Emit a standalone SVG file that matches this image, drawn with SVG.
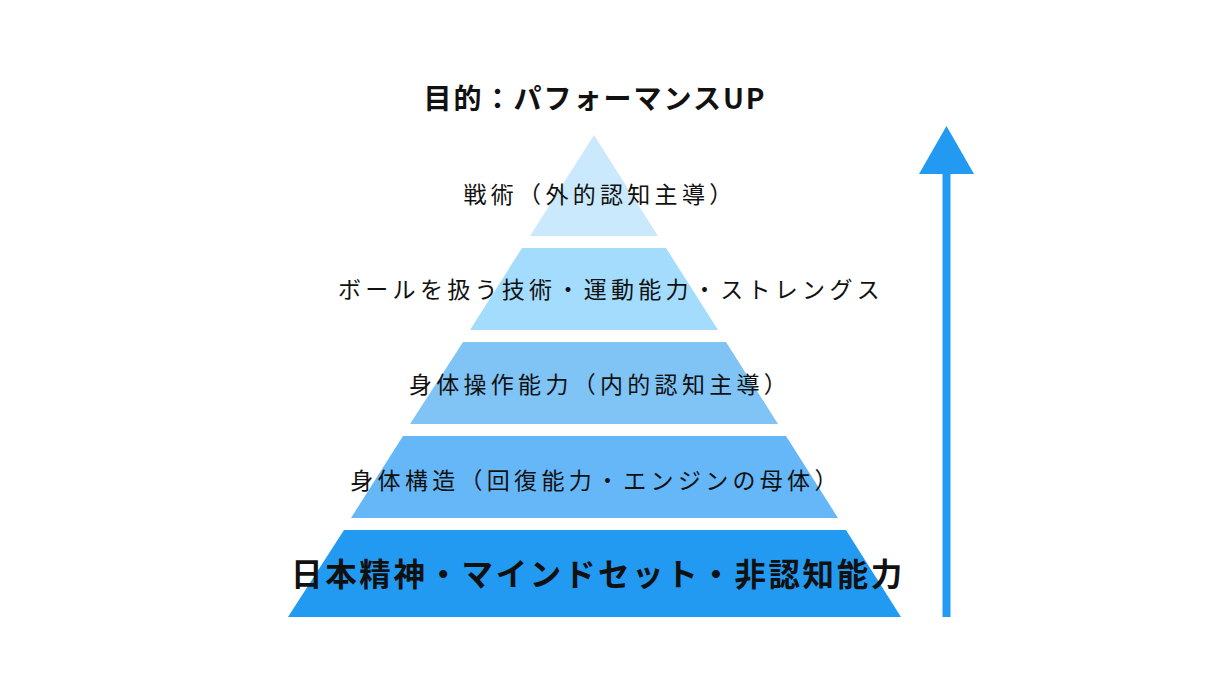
<svg xmlns="http://www.w3.org/2000/svg" width="1220" height="686" viewBox="0 0 1220 686">
<style>
.t{font-family:"Noto Sans CJK JP","Noto Sans",sans-serif;fill:#111;text-anchor:middle;dominant-baseline:central}
.m{font-size:23px;letter-spacing:4.3px;font-weight:normal}
.b{font-weight:bold}
</style>
<rect width="1220" height="686" fill="#ffffff"/>
<text class="t b" x="595" y="97" font-size="28" letter-spacing="2">目的：パフォーマンスUP</text>
<g id="layer1">
<polygon points="594,135 658,236 530,236" fill="#CBE9FC"/>
<text class="t m" x="600" y="193">戦術（外的認知主導）</text>
</g>
<g id="layer2">
<polygon points="522,248 666,248 718,330 470,330" fill="#A4DCFD"/>
<text class="t m" x="611" y="288">ボールを扱う技術・運動能力・ストレングス</text>
</g>
<g id="layer3">
<polygon points="463,342 726,342 778,424 410,424" fill="#80C4F5"/>
<text class="t m" x="600" y="383">身体操作能力（内的認知主導）</text>
</g>
<g id="layer4">
<polygon points="403,436 786,436 838,518 351,518" fill="#66B7F8"/>
<text class="t m" x="596" y="479">身体構造（回復能力・エンジンの母体）</text>
</g>
<g id="layer5">
<polygon points="344,530 846,530 901,617 288,617" fill="#239AF2"/>
<text class="t b" x="598" y="572" font-size="31.5" letter-spacing="2.6">日本精神・マインドセット・非認知能力</text>
</g>
<g id="connectors">
<rect x="942.5" y="170" width="8" height="447" fill="#229AF2"/>
<polygon points="946.5,126 974,174 919,174" fill="#229AF2"/>
</g>
</svg>
